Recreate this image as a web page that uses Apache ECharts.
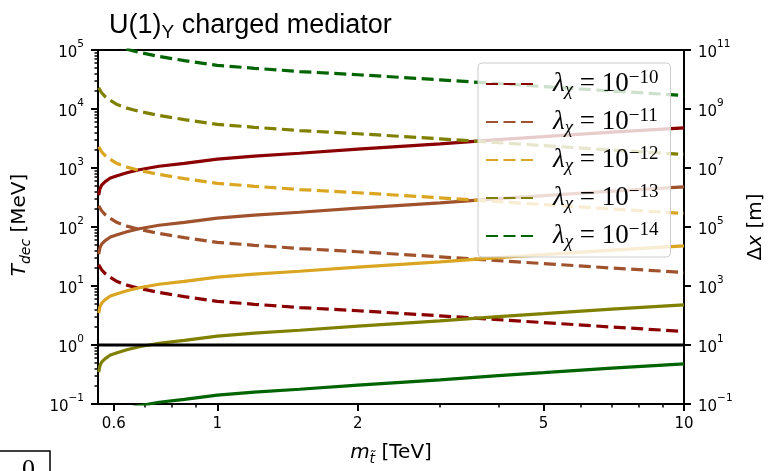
<!DOCTYPE html>
<html>
<head>
<meta charset="utf-8">
<title>U(1)Y charged mediator</title>
<script src="https://cdn.jsdelivr.net/npm/echarts@6/dist/echarts.min.js"></script>
<style>
  html, body { margin: 0; padding: 0; background: #fff; }
  #chart { width: 768px; height: 471px; }
</style>
</head>
<body>
<div id="chart"></div>
<script>
// stop mass [TeV]
var mStop = [0.557, 0.56, 0.565, 0.575, 0.59, 0.61, 0.64, 0.68, 0.75, 0.85, 1.0, 1.2, 1.5, 2.0, 3.0, 4.0, 5.0, 7.0, 10];

// T_dec [MeV] (solid lines, left axis)
var tDec10 = [347, 437, 513, 589, 676, 741, 832, 933, 1070, 1200, 1410, 1590, 1780, 2090, 2570, 3020, 3390, 4070, 4790];
var tDec11 = [34.7, 43.7, 51.3, 58.9, 67.6, 74.1, 83.2, 93.3, 107, 120, 141, 159, 178, 209, 257, 302, 339, 407, 479];
var tDec12 = [3.47, 4.37, 5.13, 5.89, 6.76, 7.41, 8.32, 9.33, 10.7, 12.0, 14.1, 15.9, 17.8, 20.9, 25.7, 30.2, 33.9, 40.7, 47.9];
var tDec13 = [0.347, 0.437, 0.513, 0.589, 0.676, 0.741, 0.832, 0.933, 1.07, 1.20, 1.41, 1.59, 1.78, 2.09, 2.57, 3.02, 3.39, 4.07, 4.79];
var tDec14 = [0.0347, 0.0437, 0.0513, 0.0589, 0.0676, 0.0741, 0.0832, 0.0933, 0.107, 0.120, 0.141, 0.159, 0.178, 0.209, 0.257, 0.302, 0.339, 0.407, 0.479];

// decay length dx [m] (dashed lines, right axis)
var dx10 = [5250, 4570, 3550, 2630, 1950, 1410, 1070, 832, 603, 437, 302, 240, 186, 145, 97.7, 72.4, 57.5, 40.7, 28.8];
var dx11 = [5.25e5, 4.57e5, 3.55e5, 2.63e5, 1.95e5, 1.41e5, 1.07e5, 8.32e4, 6.03e4, 4.37e4, 3.02e4, 2.40e4, 1.86e4, 1.45e4, 9.77e3, 7.24e3, 5.75e3, 4.07e3, 2.88e3];
var dx12 = [5.25e7, 4.57e7, 3.55e7, 2.63e7, 1.95e7, 1.41e7, 1.07e7, 8.32e6, 6.03e6, 4.37e6, 3.02e6, 2.40e6, 1.86e6, 1.45e6, 9.77e5, 7.24e5, 5.75e5, 4.07e5, 2.88e5];
var dx13 = [5.25e9, 4.57e9, 3.55e9, 2.63e9, 1.95e9, 1.41e9, 1.07e9, 8.32e8, 6.03e8, 4.37e8, 3.02e8, 2.40e8, 1.86e8, 1.45e8, 9.77e7, 7.24e7, 5.75e7, 4.07e7, 2.88e7];
var dx14 = [5.25e11, 4.57e11, 3.55e11, 2.63e11, 1.95e11, 1.41e11, 1.07e11, 8.32e10, 6.03e10, 4.37e10, 3.02e10, 2.40e10, 1.86e10, 1.45e10, 9.77e9, 7.24e9, 5.75e9, 4.07e9, 2.88e9];

var lamExps = [-10, -11, -12, -13, -14];
var lamColors = ['#8b0000', '#a0522d', '#daa520', '#808000', '#006400'];
var tDecAll = [tDec10, tDec11, tDec12, tDec13, tDec14];
var dxAll = [dx10, dx11, dx12, dx13, dx14];

var tRef = 1; // black line at 1 MeV

var xTicks = [0.6, 1, 2, 5, 10];
var xMinorTicks = [0.7, 0.8, 0.9, 3, 4, 6, 7, 8, 9];
var yLeftExps = [-1, 0, 1, 2, 3, 4, 5];
var yRightExps = [-1, 1, 3, 5, 7, 9, 11];

var LOG = Math.log10;
var xMin = LOG(0.555), xMax = 1;

var yLeftMinor = [];
for (var n = -1; n < 5; n++) {
  for (var k = 2; k <= 9; k++) yLeftMinor.push(n + LOG(k));
}

function sup(n) { return n < 0 ? '\u2212' + (-n) : String(n); }
function powLabel(v) { return '{b|10}{s|' + sup(Math.round(v)) + '}'; }
function pts(ys) {
  return mStop.map(function (m, i) { return [LOG(m), LOG(ys[i])]; });
}

var tickRich = {
  b: { fontFamily: 'DejaVu Sans', fontSize: 15, color: '#000', lineHeight: 22, verticalAlign: 'bottom' },
  s: { fontFamily: 'DejaVu Sans', fontSize: 10.5, color: '#000', lineHeight: 12, verticalAlign: 'top' }
};
var majorTick = { color: '#000', width: 2 };
var minorTick = { color: '#000', width: 1.5 };
var noLine = { show: false, onZero: false };

var dashNames = lamExps.map(function (e) { return 'dx ' + e; });

var series = [];
lamExps.forEach(function (e, i) {
  series.push({
    name: 'T ' + e, type: 'line', xAxisIndex: 0, yAxisIndex: 0,
    data: pts(tDecAll[i]), symbol: 'none', showSymbol: false,
    lineStyle: { color: lamColors[i], width: 3.2 }, itemStyle: { color: lamColors[i] },
    silent: true
  });
  series.push({
    name: dashNames[i], type: 'line', xAxisIndex: 0, yAxisIndex: 1,
    data: pts(dxAll[i]), symbol: 'none', showSymbol: false,
    lineStyle: { color: lamColors[i], width: 3.2, type: [12, 5.5] }, itemStyle: { color: lamColors[i] },
    silent: true
  });
});
series.push({
  name: 'ref', type: 'line', xAxisIndex: 0, yAxisIndex: 0,
  data: [[xMin, LOG(tRef)], [xMax, LOG(tRef)]], symbol: 'none',
  lineStyle: { color: '#000', width: 3 }, silent: true
});

var chart = echarts.init(document.getElementById('chart'));
chart.setOption({
  animation: false,
  grid: { left: 98, right: 84, top: 50, bottom: 67, show: true, borderColor: '#000', borderWidth: 2 },
  xAxis: [
    {
      type: 'value', min: xMin, max: xMax, position: 'bottom',
      axisLine: noLine, splitLine: { show: false },
      axisTick: { customValues: xTicks.map(LOG), length: 7, lineStyle: majorTick },
      axisLabel: {
        customValues: xTicks.map(LOG), margin: 13, color: '#000', fontSize: 15, fontFamily: 'DejaVu Sans',
        formatter: function (v) { return String(Math.round(Math.pow(10, v) * 10) / 10); }
      }
    },
    {
      type: 'value', min: xMin, max: xMax, position: 'bottom',
      axisLine: noLine, splitLine: { show: false },
      axisTick: { customValues: xMinorTicks.map(LOG), length: 3.5, lineStyle: minorTick },
      axisLabel: { show: false }
    }
  ],
  yAxis: [
    {
      type: 'value', min: -1, max: 5, position: 'left',
      axisLine: noLine, splitLine: { show: false },
      axisTick: { customValues: yLeftExps, length: 7, lineStyle: majorTick },
      axisLabel: { customValues: yLeftExps, margin: 14, formatter: powLabel, rich: tickRich }
    },
    {
      type: 'value', min: -1, max: 11, position: 'right',
      axisLine: noLine, splitLine: { show: false },
      axisTick: { customValues: yRightExps, length: 7, lineStyle: majorTick },
      axisLabel: { customValues: yRightExps, margin: 14, formatter: powLabel, rich: tickRich }
    },
    {
      type: 'value', min: -1, max: 5, position: 'left',
      axisLine: noLine, splitLine: { show: false },
      axisTick: { customValues: yLeftMinor, length: 3.5, lineStyle: minorTick },
      axisLabel: { show: false }
    }
  ],
  legend: {
    orient: 'vertical', left: 478, top: 63,
    data: dashNames,
    itemWidth: 48, itemHeight: 14, itemGap: 8,
    padding: [6, 12, 6, 7],
    backgroundColor: 'rgba(255,255,255,0.8)',
    borderColor: '#cccccc', borderWidth: 1, borderRadius: 4,
    selectedMode: false,
    itemStyle: { opacity: 0 },
    formatter: function (name) {
      var i = dashNames.indexOf(name);
      return '{l|\u03bb}{c|\u03c7}{e| = 10}{p|' + sup(lamExps[i]) + '}';
    },
    textStyle: {
      color: '#000',
      rich: {
        l: { fontFamily: 'Liberation Serif', fontStyle: 'italic', fontSize: 27, lineHeight: 30, color: '#000', padding: [0, 0, 0, 14] },
        c: { fontFamily: 'Liberation Serif', fontStyle: 'italic', fontSize: 19, lineHeight: 21, color: '#000', verticalAlign: 'bottom' },
        e: { fontFamily: 'Liberation Serif', fontSize: 27, lineHeight: 30, color: '#000' },
        p: { fontFamily: 'Liberation Serif', fontSize: 19, lineHeight: 23, color: '#000', verticalAlign: 'top' }
      }
    }
  },
  graphic: [
    {
      type: 'text', x: 109, y: 9,
      style: {
        text: '{a|U(1)}{s|Y}{a| charged mediator}', align: 'left', verticalAlign: 'top',
        rich: {
          a: { fontFamily: 'Liberation Sans', fontSize: 27, lineHeight: 33, fill: '#000' },
          s: { fontFamily: 'Liberation Sans', fontSize: 19, lineHeight: 19, fill: '#000', verticalAlign: 'bottom' }
        }
      }
    },
    {
      type: 'text', x: 391, y: 453,
      style: {
        text: '{i|m}{s|t\u0303}{n| [TeV]}', align: 'center', verticalAlign: 'middle',
        rich: {
          i: { fontFamily: 'DejaVu Sans', fontStyle: 'italic', fontSize: 20, lineHeight: 26, fill: '#000' },
          s: { fontFamily: 'DejaVu Sans', fontStyle: 'italic', fontSize: 14, lineHeight: 13, fill: '#000', verticalAlign: 'bottom' },
          n: { fontFamily: 'DejaVu Sans', fontSize: 20, lineHeight: 26, fill: '#000' }
        }
      }
    },
    {
      type: 'text', x: 20, y: 225, rotation: Math.PI / 2,
      style: {
        text: '{i|T}{s|dec}{n| [MeV]}', align: 'center', verticalAlign: 'middle',
        rich: {
          i: { fontFamily: 'DejaVu Sans', fontStyle: 'italic', fontSize: 20, lineHeight: 26, fill: '#000' },
          s: { fontFamily: 'DejaVu Sans', fontStyle: 'italic', fontSize: 14, lineHeight: 13, fill: '#000', verticalAlign: 'bottom' },
          n: { fontFamily: 'DejaVu Sans', fontSize: 20, lineHeight: 26, fill: '#000' }
        }
      }
    },
    {
      type: 'text', x: 756, y: 227, rotation: Math.PI / 2,
      style: {
        text: '{n|\u0394}{i|x}{n| [m]}', align: 'center', verticalAlign: 'middle',
        rich: {
          i: { fontFamily: 'DejaVu Sans', fontStyle: 'italic', fontSize: 20, lineHeight: 26, fill: '#000' },
          n: { fontFamily: 'DejaVu Sans', fontSize: 20, lineHeight: 26, fill: '#000' }
        }
      }
    },
    {
      type: 'rect', shape: { x: -5, y: 451, width: 55, height: 30 },
      style: { fill: '#fff', stroke: '#000', lineWidth: 1.5 }
    },
    {
      type: 'text', x: 22, y: 470,
      style: { text: '0', font: '26px "Liberation Serif"', fill: '#000', align: 'left', verticalAlign: 'middle' }
    }
  ],
  series: series
});
</script>
</body>
</html>
